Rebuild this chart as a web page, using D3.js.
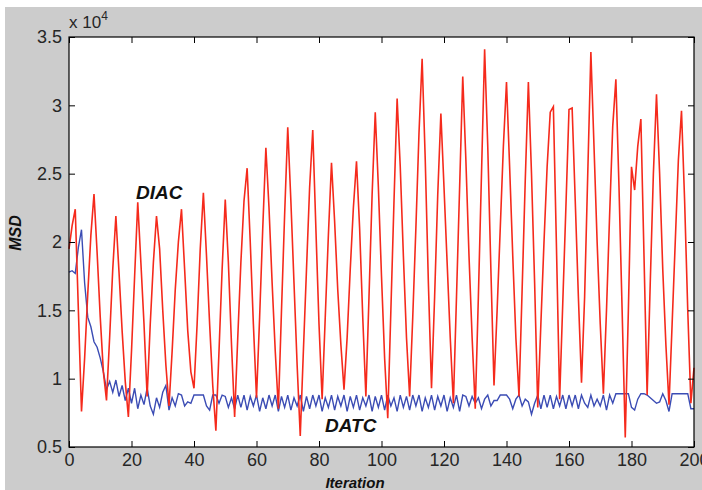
<!DOCTYPE html>
<html>
<head>
<meta charset="utf-8">
<script src="https://cdn.jsdelivr.net/npm/d3@7"></script>
<style>
  html, body { margin: 0; padding: 0; background: #ffffff; }
  svg { display: block; }
  text { font-family: "Liberation Sans", Arial, Helvetica, sans-serif; }
</style>
</head>
<body>
<svg id="chart" width="702" height="490"></svg>
<script>
// MSD per iteration, in units of 10^4
const iterations = d3.range(0, 201);

const diac = [
  1.95, 2.12, 2.24, 1.50, 0.76, 1.15, 1.62, 2.05, 2.35, 1.92,
  1.45, 1.05, 0.84, 1.30, 1.80, 2.19, 1.78, 1.35, 0.98, 0.72,
  1.20, 1.75, 2.29, 1.85, 1.40, 0.87, 1.40, 1.85, 2.19, 1.95,
  1.50, 1.10, 0.80, 1.20, 1.65, 2.00, 2.24, 1.80, 1.35, 1.05,
  0.93, 1.40, 1.95, 2.36, 1.90, 1.40, 0.95, 0.62, 1.20, 1.80,
  2.31, 1.85, 1.25, 0.72, 1.30, 1.85, 2.30, 2.54, 2.00, 1.40,
  0.86, 1.45, 2.10, 2.69, 2.25, 1.70, 1.20, 0.78, 1.50, 2.20,
  2.84, 2.30, 1.70, 1.10, 0.58, 1.20, 1.80, 2.40, 2.82, 2.10,
  1.40, 0.85, 1.45, 2.05, 2.58, 2.15, 1.65, 1.25, 0.92, 1.30,
  1.80, 2.25, 2.59, 2.10, 1.45, 0.87, 1.60, 2.35, 2.95, 2.40,
  1.75, 1.15, 0.71, 1.50, 2.30, 3.05, 2.55, 1.90, 1.30, 0.87,
  1.45, 2.10, 2.80, 3.34, 2.60, 1.70, 0.93, 1.60, 2.35, 2.94,
  2.40, 1.85, 1.30, 0.82, 1.60, 2.40, 3.21, 2.60, 1.90, 1.30,
  0.78, 1.60, 2.50, 3.41, 2.70, 1.80, 0.95, 1.50, 2.10, 2.70,
  3.17, 2.55, 1.90, 1.30, 0.87, 1.65, 2.45, 3.17, 2.50, 1.70,
  0.79, 1.40, 2.00, 2.55, 2.95, 2.99, 1.95, 0.85, 1.55, 2.25,
  2.97, 2.98, 2.30, 1.60, 0.97, 1.60, 2.50, 3.39, 2.70, 2.00,
  1.40, 0.89, 1.50, 2.20, 2.85, 3.19, 2.40, 1.50, 0.57, 1.50,
  2.55, 2.38, 2.70, 2.90, 1.90, 0.88, 1.70, 2.50, 3.08, 2.50,
  1.80, 1.25, 0.81, 1.40, 2.00, 2.60, 2.96, 2.30, 1.50, 0.82,
  1.08
];

const datc = [
  1.78, 1.79, 1.77, 1.96, 2.09, 1.70, 1.45, 1.38, 1.27, 1.23,
  1.15, 1.05, 0.92, 0.98, 0.90, 0.99, 0.87, 0.95, 0.84, 0.93,
  0.82, 0.93, 0.78, 0.88, 0.81, 0.93, 0.80, 0.74, 0.86, 0.79,
  0.90, 0.95, 0.77, 0.86, 0.80, 0.89, 0.88, 0.80, 0.83, 0.82,
  0.88, 0.88, 0.88, 0.88, 0.80, 0.77, 0.88, 0.88, 0.82, 0.88,
  0.87, 0.79, 0.86, 0.78, 0.88, 0.79, 0.88, 0.77, 0.87, 0.80,
  0.88, 0.76, 0.86, 0.78, 0.88, 0.80, 0.88, 0.76, 0.87, 0.79,
  0.88, 0.77, 0.86, 0.80, 0.88, 0.76, 0.87, 0.78, 0.88, 0.80,
  0.88, 0.76, 0.86, 0.79, 0.88, 0.77, 0.87, 0.80, 0.88, 0.76,
  0.87, 0.79, 0.88, 0.77, 0.86, 0.80, 0.88, 0.76, 0.87, 0.79,
  0.88, 0.77, 0.88, 0.80, 0.86, 0.76, 0.88, 0.79, 0.87, 0.77,
  0.88, 0.80, 0.88, 0.76, 0.86, 0.79, 0.88, 0.77, 0.87, 0.80,
  0.88, 0.76, 0.86, 0.79, 0.88, 0.76, 0.88, 0.87, 0.80, 0.87,
  0.82, 0.86, 0.78, 0.85, 0.88, 0.80, 0.84, 0.84, 0.88, 0.88,
  0.88, 0.85, 0.78, 0.85, 0.88, 0.80, 0.85, 0.83, 0.74, 0.82,
  0.88, 0.78, 0.88, 0.79, 0.88, 0.78, 0.87, 0.80, 0.88, 0.78,
  0.88, 0.80, 0.88, 0.78, 0.88, 0.82, 0.79, 0.88, 0.80, 0.85,
  0.80, 0.88, 0.77, 0.88, 0.82, 0.89, 0.89, 0.89, 0.89, 0.89,
  0.79, 0.77, 0.85, 0.89, 0.89, 0.88, 0.86, 0.84, 0.82, 0.83,
  0.89, 0.84, 0.76, 0.89, 0.89, 0.89, 0.89, 0.89, 0.89, 0.78,
  0.78
];

const xTicks = [0, 20, 40, 60, 80, 100, 120, 140, 160, 180, 200];
const yTicks = [0.5, 1, 1.5, 2, 2.5, 3, 3.5];
const yTickLabels = ["0.5", "1", "1.5", "2", "2.5", "3", "3.5"];

const seriesNames = ["DIAC", "DATC"];
const seriesColors = ["#f52a1c", "#3b4cb4"];

const svg = d3.select("#chart");
const W = 702, H = 490;
const plot = { left: 69, right: 694, top: 37, bottom: 447 };

// figure background
svg.append("rect")
  .attr("x", 5).attr("y", 7)
  .attr("width", W - 5).attr("height", H - 7)
  .attr("fill", "#cccccc");

// axes area
svg.append("rect")
  .attr("x", plot.left).attr("y", plot.top)
  .attr("width", plot.right - plot.left)
  .attr("height", plot.bottom - plot.top)
  .attr("fill", "#ffffff");

const x = d3.scaleLinear().domain([0, 200]).range([plot.left, plot.right]);
const y = d3.scaleLinear().domain([0.5, 3.5]).range([plot.bottom, plot.top]);

const line = d3.line()
  .x((d, i) => x(iterations[i]))
  .y(d => y(d));

// DATC underneath, DIAC drawn over it
svg.append("path")
  .datum(datc)
  .attr("fill", "none")
  .attr("stroke", seriesColors[1])
  .attr("stroke-width", 1.4)
  .attr("d", line);

svg.append("path")
  .datum(diac)
  .attr("fill", "none")
  .attr("stroke", seriesColors[0])
  .attr("stroke-width", 1.6)
  .attr("d", line);

const tickFont = 18;
const tickColor = "#262626";

function styleAxis(g) {
  g.select(".domain").remove();
  g.selectAll(".tick line").attr("stroke", "#000").attr("stroke-width", 1);
  g.selectAll(".tick text")
    .attr("fill", tickColor)
    .style("font-size", tickFont + "px")
    .style("font-family", '"Liberation Sans", Arial, sans-serif');
}

// bottom axis with labels, ticks pointing inward
svg.append("g")
  .attr("transform", `translate(0,${plot.bottom})`)
  .call(d3.axisBottom(x).tickValues(xTicks).tickSizeInner(-6).tickSizeOuter(0).tickPadding(6).tickFormat(d3.format("d")))
  .call(styleAxis);

// top axis, ticks only
svg.append("g")
  .attr("transform", `translate(0,${plot.top})`)
  .call(d3.axisTop(x).tickValues(xTicks).tickSizeInner(-6).tickSizeOuter(0).tickFormat(""))
  .call(styleAxis);

// left axis with labels
svg.append("g")
  .attr("transform", `translate(${plot.left},0)`)
  .call(d3.axisLeft(y).tickValues(yTicks).tickSizeInner(-6).tickSizeOuter(0).tickPadding(7)
    .tickFormat((d, i) => yTickLabels[i]))
  .call(styleAxis);

// right axis, ticks only
svg.append("g")
  .attr("transform", `translate(${plot.right},0)`)
  .call(d3.axisRight(y).tickValues(yTicks).tickSizeInner(-6).tickSizeOuter(0).tickFormat(""))
  .call(styleAxis);

// axes box
svg.append("rect")
  .attr("x", plot.left).attr("y", plot.top)
  .attr("width", plot.right - plot.left)
  .attr("height", plot.bottom - plot.top)
  .attr("fill", "none")
  .attr("stroke", "#000")
  .attr("stroke-width", 1.2);

// exponent marker
const expo = svg.append("text")
  .attr("x", plot.left).attr("y", 28)
  .attr("fill", tickColor)
  .style("font-size", "17px");
expo.append("tspan").text("x 10");
expo.append("tspan").attr("dy", -8).style("font-size", "12px").text("4");

// axis titles
svg.append("text")
  .attr("x", 355).attr("y", 488)
  .attr("text-anchor", "middle")
  .style("font-size", "15px").style("font-weight", "bold").style("font-style", "italic")
  .attr("fill", "#111")
  .text("Iteration");

svg.append("text")
  .attr("transform", "translate(21,233) rotate(-90)")
  .attr("text-anchor", "middle")
  .style("font-size", "16px").style("font-weight", "bold").style("font-style", "italic")
  .attr("fill", "#111")
  .text("MSD");

// series labels
svg.append("text")
  .attr("x", 136).attr("y", 199)
  .style("font-size", "19px").style("font-weight", "bold").style("font-style", "italic")
  .attr("fill", "#111")
  .text(seriesNames[0]);

svg.append("text")
  .attr("x", 325).attr("y", 432)
  .style("font-size", "19px").style("font-weight", "bold").style("font-style", "italic")
  .attr("fill", "#111")
  .text(seriesNames[1]);
</script>
</body>
</html>
